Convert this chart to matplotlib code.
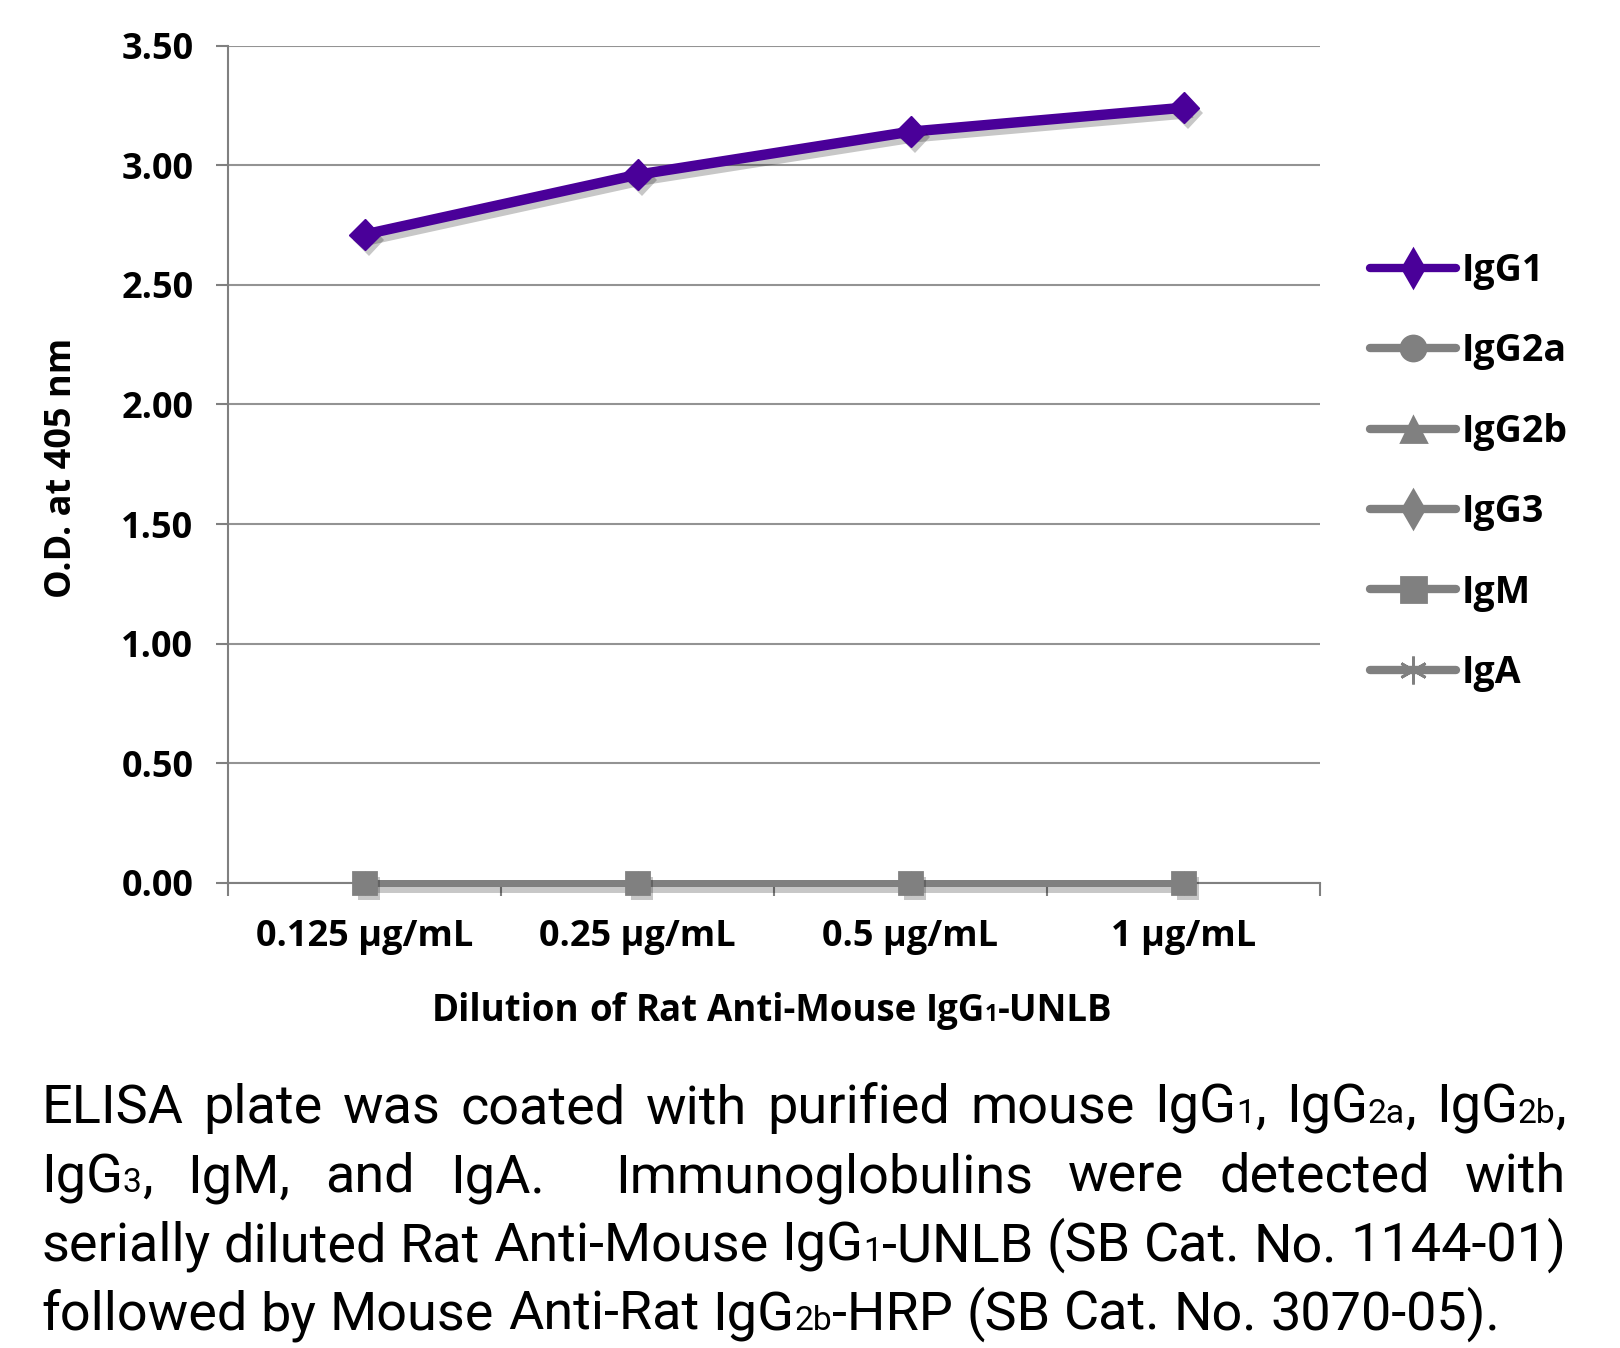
import re
import matplotlib
matplotlib.use('Agg')
import matplotlib.pyplot as plt
import matplotlib.patheffects as pe
from matplotlib.lines import Line2D

categories = ['0.125 µg/mL', '0.25 µg/mL', '0.5 µg/mL', '1 µg/mL']
igg1 = [2.71, 2.96, 3.14, 3.24]
igg2a = [0.00, 0.00, 0.00, 0.00]
igg2b = [0.00, 0.00, 0.00, 0.00]
igg3 = [0.00, 0.00, 0.00, 0.00]
igm = [0.00, 0.00, 0.00, 0.00]
iga = [0.00, 0.00, 0.00, 0.00]
yticks = [0.0, 0.5, 1.0, 1.5, 2.0, 2.5, 3.0, 3.5]
ytick_labels = ['0.00', '0.50', '1.00', '1.50', '2.00', '2.50', '3.00', '3.50']

ylabel = 'O.D. at 405 nm'
xlabel = 'Dilution of Rat Anti-Mouse IgG{1}-UNLB'
caption = [
    'ELISA plate was coated with purified mouse IgG{1}, IgG{2a}, IgG{2b},',
    'IgG{3}, IgM, and IgA.  Immunoglobulins were detected with',
    'serially diluted Rat Anti-Mouse IgG{1}-UNLB (SB Cat. No. 1144-01)',
    'followed by Mouse Anti-Rat IgG{2b}-HRP (SB Cat. No. 3070-05).',
]

purple = '#4a0099'
gray = '#808080'
bold_font = 'Open Sans'
cap_font = 'Roboto'

W, H = 1620, 1348
fig = plt.figure(figsize=(W / 100, H / 100), dpi=100)
renderer = fig.canvas.get_renderer()

ax = fig.add_axes([228 / W, 465 / H, (1320 - 228) / W, (883 - 45.5) / H])
x = list(range(len(categories)))

line_shadow = [pe.SimpleLineShadow(offset=(3, -4), shadow_color='k', alpha=0.22), pe.Normal()]
mark_shadow = [pe.SimplePatchShadow(offset=(3, -4), shadow_rgbFace='k', alpha=0.22), pe.Normal()]

# drawn in this order so the IgM square ends up on top, as in the reference
gray_series = [('IgG2a', igg2a, 'o', 12), ('IgG2b', igg2b, '^', 12), ('IgG3', igg3, 'D', 10),
               ('IgA', iga, (6, 2, 0), 12), ('IgM', igm, 's', 16)]
for name, vals, mk, ms in gray_series:
    top = name == 'IgM'
    ax.plot(x, vals, color=gray, lw=5, zorder=3, clip_on=False,
            path_effects=line_shadow if top else None)
    ax.plot(x, vals, ls='none', marker=mk, markersize=ms, mew=2, mec=gray, mfc=gray,
            zorder=3, clip_on=False, path_effects=mark_shadow if top else None)
ax.plot(x, igg1, color=purple, lw=7.5, zorder=4, path_effects=line_shadow)
ax.plot(x, igg1, ls='none', marker='D', markersize=16, mec=purple, mfc=purple, zorder=4,
        path_effects=mark_shadow)

# legend in reference order
legend_specs = [('IgG1', purple, 'd', 19), ('IgG2a', gray, 'o', 18), ('IgG2b', gray, '^', 18),
                ('IgG3', gray, 'd', 19), ('IgM', gray, 's', 18), ('IgA', gray, (6, 2, 0), 20)]
handles = [Line2D([], [], color=c, lw=6, marker=m, markersize=s, mew=2, solid_capstyle='round')
           for _, c, m, s in legend_specs]
labels = [n for n, _, _, _ in legend_specs]
leg = ax.legend(handles, labels, loc='upper left', bbox_to_anchor=(1370 / W, 1 - 252 / H),
                bbox_transform=fig.transFigure, frameon=False, borderpad=0,
                borderaxespad=0, handlelength=2.3, handletextpad=0.15, labelspacing=1.13,
                prop={'family': bold_font, 'weight': 'bold', 'size': 27})

ax.set_xlim(-0.5, len(categories) - 0.5)
ax.set_ylim(0, 3.5)
ax.set_yticks(yticks)
ax.set_yticklabels(ytick_labels)
ax.set_xticks(x)
ax.set_xticklabels(categories)
ax.set_xticks([i - 0.5 for i in range(len(categories) + 1)], minor=True)
ax.tick_params(axis='x', which='major', length=0, pad=26)
ax.tick_params(axis='x', which='minor', length=9, width=1.5, color=gray, direction='out')
ax.tick_params(axis='y', length=9, width=1.5, color=gray, pad=16)
for lab in ax.get_xticklabels() + ax.get_yticklabels():
    lab.set_fontfamily(bold_font)
    lab.set_fontweight('bold')
    lab.set_fontsize(26)
ax.grid(axis='y', color=gray, lw=1.5, alpha=0.85)
ax.set_axisbelow(True)
for s in ['top', 'right']:
    ax.spines[s].set_visible(False)
for s in ['left', 'bottom']:
    ax.spines[s].set_color(gray)
    ax.spines[s].set_linewidth(1.5)

fig.text(62 / W, 1 - 468 / H, ylabel, rotation=90, ha='center', va='center',
         fontfamily=bold_font, fontweight='bold', fontsize=26)


def runs_of(word):
    out = []
    for p in re.split(r'(\{[^}]*\})', word):
        if not p:
            continue
        if p.startswith('{'):
            out.append((p[1:-1], True))
        else:
            out.append((p, False))
    return out


def text_width(s, size, **kw):
    t = fig.text(0, 0, s, fontsize=size, **kw)
    w = t.get_window_extent(renderer).width
    t.remove()
    return w


def word_width(word, size, **kw):
    return sum(text_width(r, size * (0.62 if small else 1), **kw) for r, small in runs_of(word))


def draw_word(x0, y0, word, size, **kw):
    for r, small in runs_of(word):
        sz = size * (0.62 if small else 1)
        fig.text(x0 / W, 1 - y0 / H, r, fontsize=sz, ha='left', va='baseline', **kw)
        x0 += text_width(r, sz, **kw)
    return x0


def space_width(size, **kw):
    return text_width('a a', size, **kw) - 2 * text_width('a', size, **kw)


# x axis title with small subscript digit
xl_kw = dict(fontfamily=bold_font, fontweight='bold')
xl_size = 27
xl_max = 682
words = xlabel.split(' ')
sp = space_width(xl_size, **xl_kw)
tot = sum(word_width(w, xl_size, **xl_kw) for w in words) + sp * (len(words) - 1)
if tot > xl_max:
    xl_size *= xl_max / tot
    sp *= xl_max / tot
    tot = xl_max
cx = 773 - tot / 2
for w in words:
    cx = draw_word(cx, 1021, w, xl_size, **xl_kw) + sp

# caption, justified
cap_kw = dict(fontfamily=cap_font)
cap_size = 39
x_left, x_right = 41, 1566
baselines = [1123, 1192, 1261, 1330]
natural = []
for line in caption:
    ws = line.split(' ')
    sp = space_width(cap_size, **cap_kw)
    natural.append(sum(word_width(w, cap_size, **cap_kw) for w in ws) + sp * (len(ws) - 1))
scale = min(1.0, (x_right - x_left) / max(natural))
cap_size *= scale
for i, line in enumerate(caption):
    ws = line.split(' ')
    widths = [word_width(w, cap_size, **cap_kw) for w in ws]
    if i < len(caption) - 1:
        gap = (x_right - x_left - sum(widths)) / (len(ws) - 1)
    else:
        gap = space_width(cap_size, **cap_kw)
    cx = x_left
    for w, wd in zip(ws, widths):
        if w:
            draw_word(cx, baselines[i], w, cap_size, **cap_kw)
        cx += wd + gap

fig.savefig('out.png', dpi=100)
